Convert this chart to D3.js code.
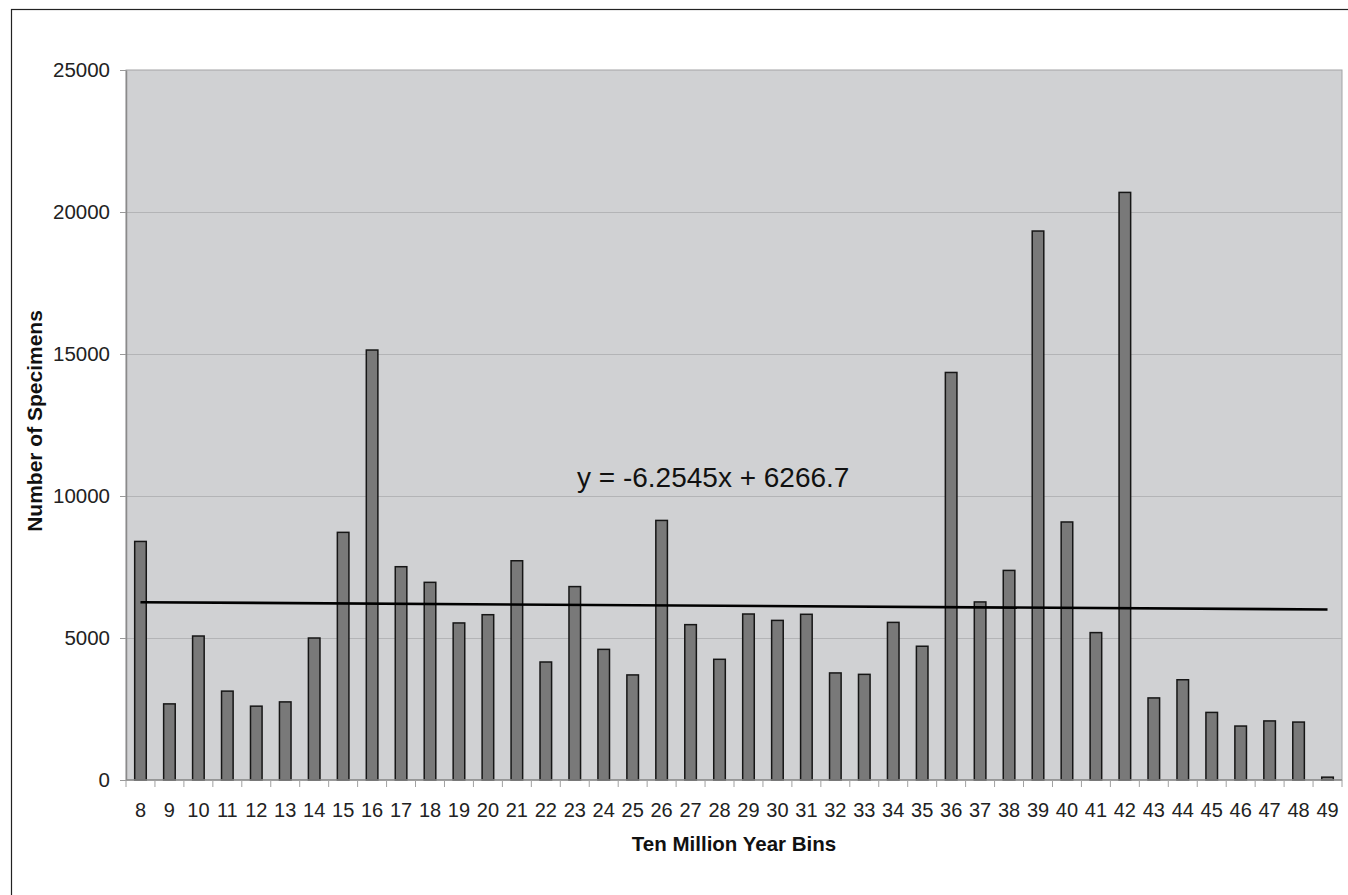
<!DOCTYPE html>
<html>
<head>
<meta charset="utf-8">
<script src="https://cdn.jsdelivr.net/npm/d3@7"></script>
<style>
  body { margin: 0; background: #fff; }
  svg { display: block; font-family: "Liberation Sans", Arial, sans-serif; }
</style>
</head>
<body>
<script>
// ten million year bins and specimen counts
const bins = [8, 9, 10, 11, 12, 13, 14, 15, 16, 17, 18, 19, 20, 21, 22, 23, 24, 25, 26, 27, 28,
              29, 30, 31, 32, 33, 34, 35, 36, 37, 38, 39, 40, 41, 42, 43, 44, 45, 46, 47, 48, 49];
const specimens = [8400, 2680, 5070, 3130, 2600, 2750, 5000, 8720, 15140, 7510, 6960, 5530, 5820, 7720,
                   4155, 6810, 4600, 3700, 9140, 5470, 4250, 5845, 5620, 5835, 3770, 3720, 5550, 4710,
                   14350, 6270, 7380, 19330, 9085, 5190, 20690, 2890, 3530, 2380, 1900, 2080, 2040, 100];
const yTicks = [0, 5000, 10000, 15000, 20000, 25000];
// linear trendline as printed on the chart (x = 1..n)
const trendSlope = -6.2545;
const trendIntercept = 6266.7;
const trendLabel = "y = -6.2545x + 6266.7";

const W = 1348, H = 895;
const plot = { left: 126, right: 1342, top: 70, bottom: 780 };

const svg = d3.select("body").append("svg")
    .attr("width", W)
    .attr("height", H);

// outer chart frame
svg.append("rect")
    .attr("x", 11.5).attr("y", 9.5)
    .attr("width", W + 20).attr("height", H + 20)
    .attr("fill", "#fff")
    .attr("stroke", "#222")
    .attr("stroke-width", 1.2);

const x = d3.scaleBand()
    .domain(bins)
    .range([plot.left, plot.right])
    .paddingInner(0.6)
    .paddingOuter(0.3);

const y = d3.scaleLinear()
    .domain([0, 25000])
    .range([plot.bottom, plot.top]);

// plot background
svg.append("rect")
    .attr("x", plot.left).attr("y", plot.top)
    .attr("width", plot.right - plot.left)
    .attr("height", plot.bottom - plot.top)
    .attr("fill", "#d0d1d3")
    .attr("stroke", "#a3a4a6")
    .attr("stroke-width", 1);

// gridlines
svg.append("g")
    .attr("stroke", "#b3b4b6")
    .attr("stroke-width", 1)
  .selectAll("line")
  .data(yTicks.filter(d => d > 0 && d < 25000))
  .join("line")
    .attr("x1", plot.left).attr("x2", plot.right)
    .attr("y1", d => Math.round(y(d)) + 0.5)
    .attr("y2", d => Math.round(y(d)) + 0.5);

// y axis
const yAxis = svg.append("g")
    .attr("transform", `translate(${plot.left},0)`)
    .call(d3.axisLeft(y).tickValues(yTicks).tickFormat(d3.format("d"))
        .tickSize(6).tickPadding(10).tickSizeOuter(0));
yAxis.select(".domain").attr("stroke", "#8a8a8a").attr("stroke-width", 1.5);
yAxis.selectAll(".tick line").attr("stroke", "#999");
yAxis.selectAll(".tick text")
    .attr("fill", "#222")
    .attr("font-size", 20.5)
    .attr("font-family", "Liberation Sans, Arial, sans-serif");

// bars
svg.append("g")
  .selectAll("rect")
  .data(bins.map((b, i) => ({ bin: b, value: specimens[i] })))
  .join("rect")
    .attr("x", d => x(d.bin))
    .attr("y", d => y(d.value))
    .attr("width", x.bandwidth())
    .attr("height", d => y(0) - y(d.value))
    .attr("fill", "#797979")
    .attr("stroke", "#161616")
    .attr("stroke-width", 1.5);

// x axis baseline and category boundary ticks
svg.append("line")
    .attr("x1", plot.left).attr("x2", plot.right)
    .attr("y1", plot.bottom).attr("y2", plot.bottom)
    .attr("stroke", "#8a8a8a")
    .attr("stroke-width", 1.5);

svg.append("g")
    .attr("stroke", "#a0a0a0")
  .selectAll("line")
  .data(d3.range(bins.length + 1))
  .join("line")
    .attr("x1", i => plot.left + i * x.step())
    .attr("x2", i => plot.left + i * x.step())
    .attr("y1", plot.bottom)
    .attr("y2", plot.bottom + 7);

const xAxis = svg.append("g")
    .attr("transform", `translate(0,${plot.bottom})`)
    .call(d3.axisBottom(x).tickSize(0).tickPadding(23));
xAxis.select(".domain").remove();
xAxis.selectAll(".tick text")
    .attr("fill", "#222")
    .attr("font-size", 20)
    .attr("font-family", "Liberation Sans, Arial, sans-serif");

// trendline
const trend = [1, bins.length].map(k => ({ bin: bins[k - 1], value: trendSlope * k + trendIntercept }));
svg.append("path")
    .datum(trend)
    .attr("fill", "none")
    .attr("stroke", "#000")
    .attr("stroke-width", 2.6)
    .attr("d", d3.line()
        .x(d => x(d.bin) + x.bandwidth() / 2)
        .y(d => y(d.value)));

svg.append("text")
    .attr("x", 577)
    .attr("y", 487)
    .attr("font-size", 28)
    .attr("fill", "#111")
    .text(trendLabel);

// axis titles
svg.append("text")
    .attr("x", (plot.left + plot.right) / 2)
    .attr("y", 851)
    .attr("text-anchor", "middle")
    .attr("font-size", 20.5)
    .attr("font-weight", "bold")
    .attr("fill", "#111")
    .text("Ten Million Year Bins");

svg.append("text")
    .attr("transform", `translate(42,${(plot.top + plot.bottom) / 2 - 4}) rotate(-90)`)
    .attr("text-anchor", "middle")
    .attr("font-size", 21)
    .attr("font-weight", "bold")
    .attr("fill", "#111")
    .text("Number of Specimens");
</script>
</body>
</html>
